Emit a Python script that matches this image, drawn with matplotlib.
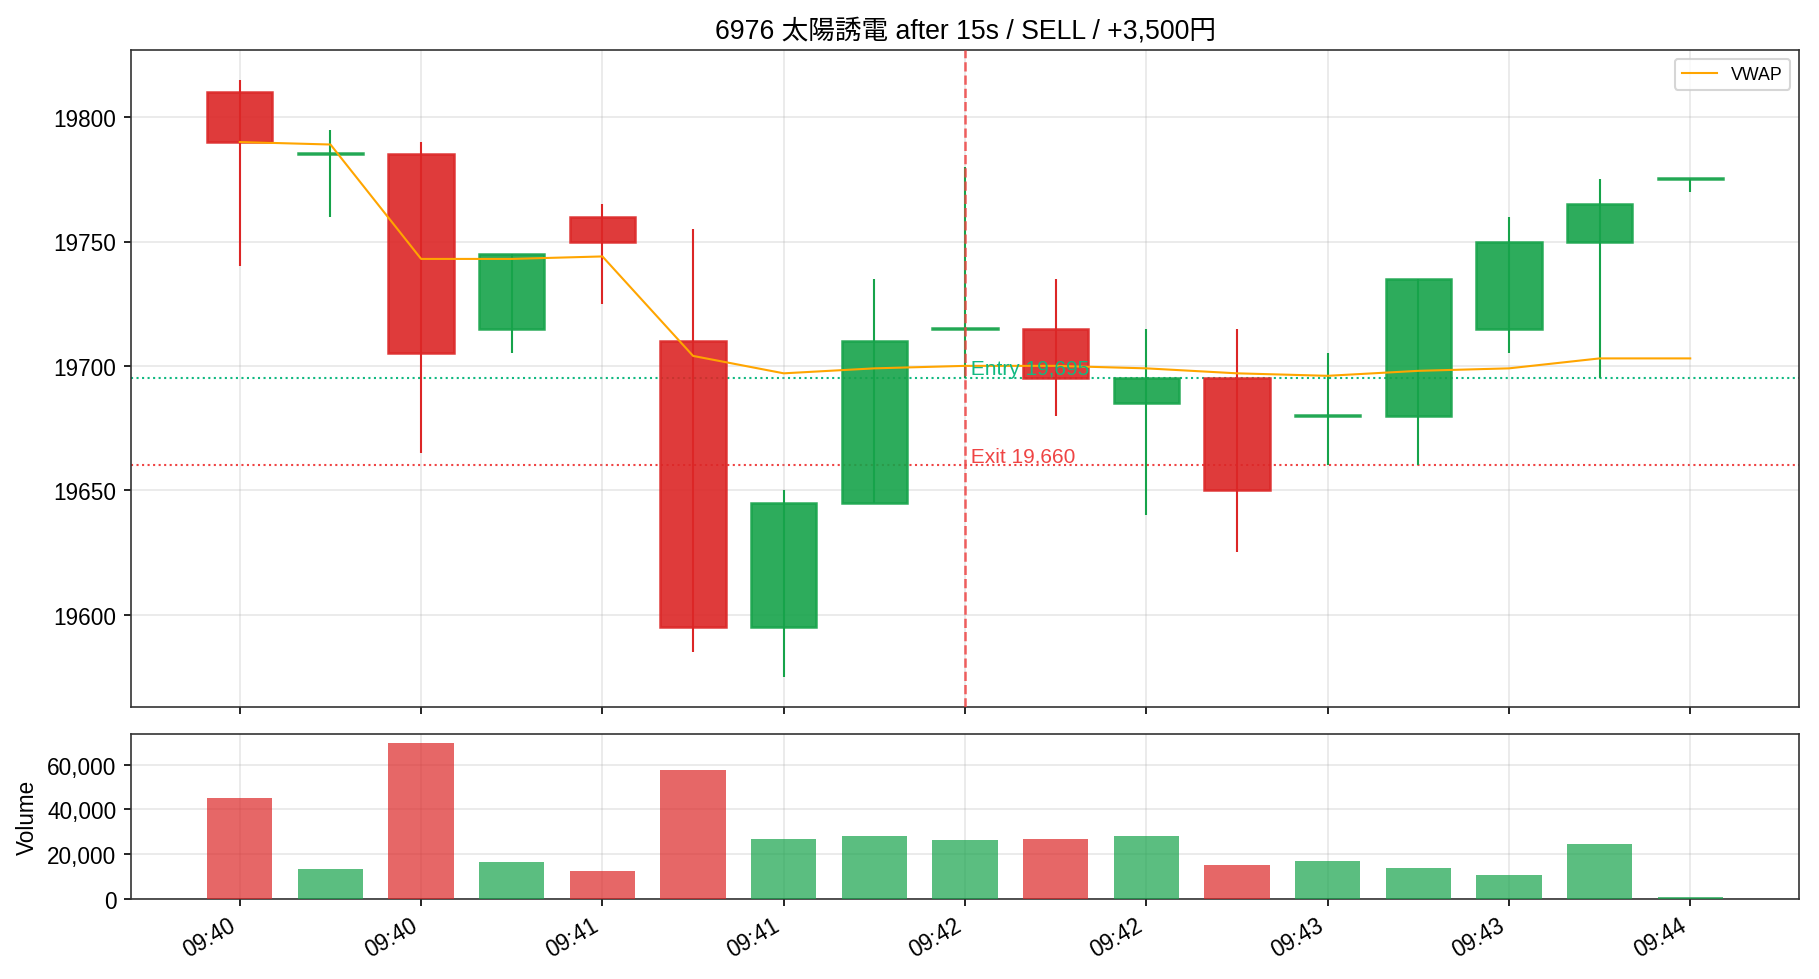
import datetime as dt
import matplotlib
matplotlib.use("Agg")
import matplotlib.pyplot as plt
import matplotlib.dates as mdates
from matplotlib.ticker import FuncFormatter

plt.rcParams["font.family"] = ["Liberation Sans", "Noto Sans CJK JP", "DejaVu Sans"]
plt.rcParams["xtick.labelsize"] = 10.8
plt.rcParams["ytick.labelsize"] = 10.8
plt.rcParams["axes.labelsize"] = 10.8

# 15s candles, 09:40:00 - 09:44:00
start = dt.datetime(2024, 1, 1, 9, 40, 0)
times = [start + dt.timedelta(seconds=15 * i) for i in range(17)]
opens = [19810, 19785, 19785, 19715, 19760, 19710, 19595, 19645, 19715,
         19715, 19685, 19695, 19680, 19680, 19715, 19750, 19775]
highs = [19815, 19795, 19790, 19745, 19765, 19755, 19650, 19735, 19780,
         19735, 19715, 19715, 19705, 19735, 19760, 19775, 19775]
lows = [19740, 19760, 19665, 19705, 19725, 19585, 19575, 19645, 19695,
        19680, 19640, 19625, 19660, 19660, 19705, 19695, 19770]
closes = [19790, 19785, 19705, 19745, 19750, 19595, 19645, 19710, 19715,
          19695, 19695, 19650, 19680, 19735, 19750, 19765, 19775]
vwap = [19790, 19789, 19743, 19743, 19744, 19704, 19697, 19699, 19700,
        19700, 19699, 19697, 19696, 19698, 19699, 19703, 19703]
volumes = [44900, 13300, 69800, 16400, 12400, 57800, 26700, 28000, 26200,
           26700, 28000, 15100, 16900, 13800, 10700, 24400, 900]

entry_time = dt.datetime(2024, 1, 1, 9, 42, 0)
entry_price = 19695
exit_price = 19660
title = "6976 太陽誘電 after 15s / SELL / +3,500円"

RED = "#dc2626"
GREEN = "#16a34a"


def main():
    fig, (ax, axv) = plt.subplots(
        2, 1, figsize=(12.133, 6.533), dpi=150, sharex=True,
        gridspec_kw={"height_ratios": [4, 1]})
    fig.subplots_adjust(left=0.072, right=0.9885, top=0.948, bottom=0.082, hspace=0.068)

    x = mdates.date2num(times)
    width = 10.8 / 86400

    for i in range(len(x)):
        up = closes[i] >= opens[i]
        c = GREEN if up else RED
        ax.vlines(x[i], lows[i], highs[i], color=c, linewidth=1, zorder=2)
        body_lo = min(opens[i], closes[i])
        body_h = max(abs(closes[i] - opens[i]), 0.4)
        ax.bar(x[i], body_h, width, bottom=body_lo, color=c, alpha=0.9,
               edgecolor=c, linewidth=1.2, zorder=3)
        axv.bar(x[i], volumes[i], width, color=c, alpha=0.7, zorder=3)

    ax.plot(x, vwap, color="orange", linewidth=1, label="VWAP", zorder=4)

    ax.axhline(entry_price, color="#10b981", linestyle=":", linewidth=1, zorder=1)
    ax.axhline(exit_price, color="#ef4444", linestyle=":", linewidth=1, zorder=1)
    ex = mdates.date2num(entry_time)
    ax.axvline(ex, color="#ef4444", linestyle="--", linewidth=1.2, alpha=0.85, zorder=5)
    ax.text(ex, entry_price, " Entry 19,695", color="#10b981", fontsize=10,
            va="bottom", ha="left", zorder=6)
    ax.text(ex, exit_price, " Exit 19,660", color="#ef4444", fontsize=10,
            va="bottom", ha="left", zorder=6)

    ax.set_title(title, fontsize=12.8)
    ax.set_ylim(19563, 19827)
    ax.legend(loc="upper right", fontsize=8.5)
    ax.grid(True, alpha=0.3)
    axv.grid(True, alpha=0.3)

    axv.set_ylim(0, 73500)
    axv.set_ylabel("Volume")
    axv.yaxis.set_major_formatter(FuncFormatter(lambda v, p: f"{int(v):,}"))
    axv.set_yticks([0, 20000, 40000, 60000])

    ax.set_xlim(x[0] - 18 / 86400, x[-1] + 18 / 86400)
    axv.xaxis.set_major_locator(mdates.SecondLocator(bysecond=[0, 30]))
    axv.xaxis.set_major_formatter(mdates.DateFormatter("%H:%M"))
    for lab in axv.get_xticklabels():
        lab.set_rotation(30)
        lab.set_ha("right")

    for a in (ax, axv):
        for s in a.spines.values():
            s.set_color("#333333")

    fig.savefig("out.png", dpi=150)


if __name__ == "__main__":
    main()
